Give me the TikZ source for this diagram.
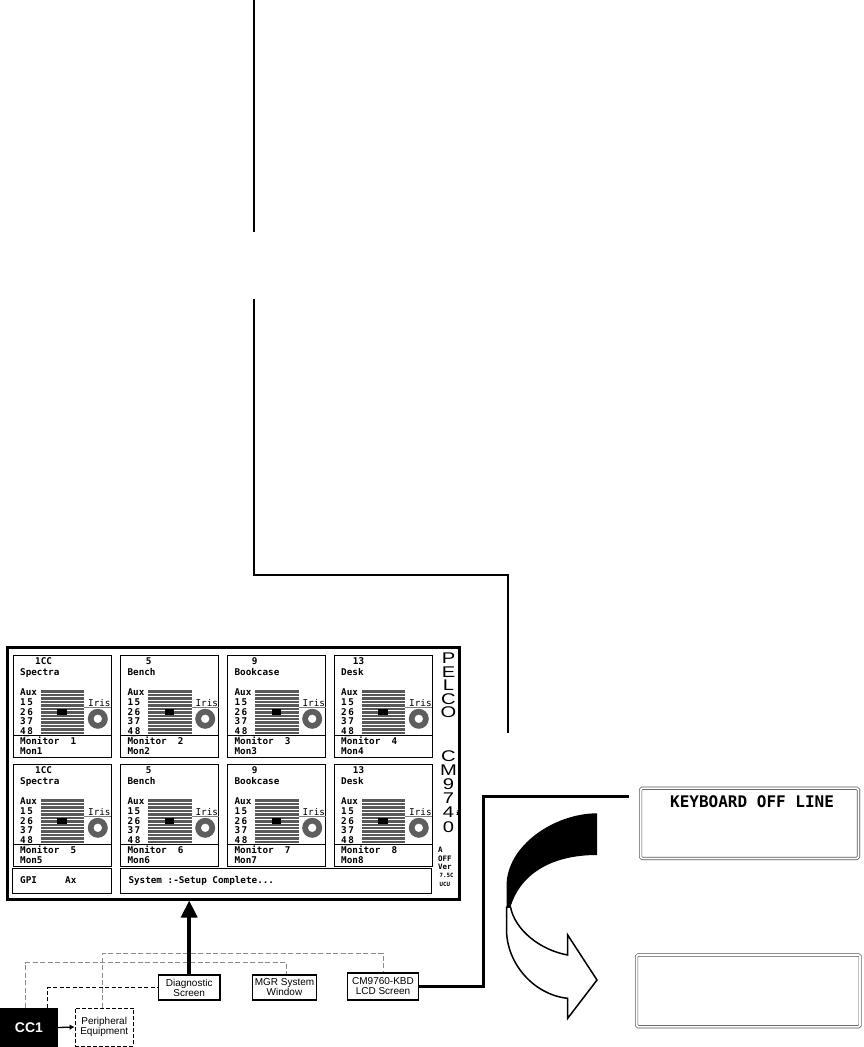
\documentclass[tikz,border=0pt]{standalone}
\usepackage{fontspec}
\setmainfont{Liberation Sans}
\newfontfamily\lcd{DejaVu Sans Mono}
\usetikzlibrary{arrows.meta,calc}
\definecolor{bargray}{HTML}{595959}
\definecolor{dashgray}{HTML}{8C8C8C}
\definecolor{ringgray}{HTML}{5E5E5E}
\definecolor{lcdgray}{HTML}{555555}
\newcommand\wl[1]{\scalebox{1.3}[1]{#1}}
\tikzset{
  mtxt/.style={font=\lcd\bfseries\fontsize{9.3}{10}\selectfont, inner sep=0pt, anchor=base west},
  itxt/.style={font=\lcd\fontsize{9.3}{10}\selectfont, inner sep=0pt, anchor=base west},
  stxt/.style={font=\lcd\bfseries\fontsize{7.5}{8}\selectfont, inner sep=0pt, anchor=west},
  tinytxt/.style={font=\lcd\bfseries\fontsize{5.8}{6}\selectfont, inner sep=0pt, anchor=west},
  panelbox/.style={draw, line width=1pt, inner sep=0pt},
  labbox/.style={draw, line width=1.2pt, inner sep=0pt, align=center, font=\fontsize{10}{10}\selectfont},
  gdash/.style={draw=dashgray, line width=1pt, dash pattern=on 5pt off 2.5pt},
  bdash/.style={draw=black, line width=0.9pt, dash pattern=on 4pt off 2.5pt},
  vline/.style={line width=2pt},
  thickline/.style={line width=2.5pt},
  lcdbox/.style={draw=lcdgray, double=white, double distance=1.8pt, line width=0.7pt, rounded corners=1.5pt, inner sep=0pt},
}
\newcommand\campanel[7]{%
\begin{scope}[shift={(#2,#3)}]
 \node[panelbox, minimum width=98pt, minimum height=102pt] (#1) at (49,51) {};
 \node[mtxt] (#1num) at (#5,9.9) {#4};
 \node[mtxt] (#1cam) at (6.7,20.3) {#6};
 \node[mtxt] (#1aux) at (6.7,40.3) {Aux};
 \node[mtxt] (#1ra) at (6.7,50.1) {1\,5};
 \node[mtxt] (#1rb) at (6.7,60) {2\,6};
 \node[mtxt] (#1rc) at (6.7,69.4) {3\,7};
 \node[mtxt] (#1rd) at (6.7,79.1) {4\makebox[1.6pt]{\_}8};
 \fill[bargray] (27.7,35) rectangle (71,80.4);
 \foreach \k in {1,...,13} \draw[white, line width=0.8pt] (27.7,35+\k*3.42) -- (71,35+\k*3.42);
 \fill[black] (44,54) rectangle (53.4,60);
 \draw[gray, line width=0.6pt] (71,52.3) -- (98,52.3);
 \node[itxt] (#1iris) at (74.7,51) {Iris};
 \fill[ringgray, even odd rule] (84.5,63.8) circle[radius=10pt] (84.5,63.8) circle[radius=4.3pt];
 \draw[line width=0.8pt] (0,80.4) -- (98,80.4);
 \node[mtxt] (#1mon) at (6.7,89.2) {Monitor~~#7};
 \node[mtxt] (#1mn) at (6.7,99.6) {Mon#7};
\end{scope}}
\begin{document}
\begin{tikzpicture}[x=1pt,y=-1pt]
\useasboundingbox (0,0) rectangle (863,1047);
\fill[white] (0,0) rectangle (863,1047);

% top connector lines
\coordinate (t1) at (254,0);
\coordinate (t2) at (254,232);
\coordinate (t3) at (254,298.5);
\coordinate (t4) at (508,575);
\coordinate (t5) at (508,733);
\draw[vline] (t1) -- (t2);
\draw[vline] (t3) |- (t4) -- (t5);

% monitor screen
\node[draw, line width=3pt, minimum width=451.5pt, minimum height=251.5pt, inner sep=0pt] (screen) at (233.25,773.25) {};
\campanel{pa}{13.3}{655}{1CC}{21.7}{Spectra}{1}
\campanel{pb}{120.7}{655}{5}{25}{Bench}{2}
\campanel{pc}{227.7}{655}{9}{24}{Bookcase}{3}
\campanel{pd}{334.3}{655}{13}{18.4}{Desk}{4}
\campanel{pe}{13.3}{764}{1CC}{21.7}{Spectra}{5}
\campanel{pf}{120.7}{764}{5}{25}{Bench}{6}
\campanel{pg}{227.7}{764}{9}{24}{Bookcase}{7}
\campanel{ph}{334.3}{764}{13}{18.4}{Desk}{8}
\node[panelbox, minimum width=99pt, minimum height=25pt] (gpi) at (62.2,880.8) {};
\node[panelbox, minimum width=311.7pt, minimum height=25pt] (sys) at (275.85,880.8) {};
\node[mtxt] (gpit) at (20,883.5) {GPI};
\node[mtxt] (axt) at (65,883.5) {Ax};
\node[mtxt] (syst) at (128.3,883.5) {System :-Setup Complete...};

% right column
\node[inner sep=0pt, anchor=north, align=center, font=\fontsize{15.5}{13.4}\selectfont] (pelco) at (448.5,653)
  {\wl{P}\\\wl{E}\\\wl{L}\\\wl{C}\\\wl{O}};
\node[inner sep=0pt, anchor=north, align=center, font=\fontsize{15.5}{14.2}\selectfont] (model) at (448.5,750)
  {\wl{C}\\\wl{M}\\\wl{9}\\\wl{7}\\\wl{4}\\\wl{0}};
\node[tinytxt] (idot) at (455.6,813) {i};
\node[stxt] (sa) at (438,850) {A};
\node[stxt] (soff) at (438,859) {OFF};
\node[stxt] (sver) at (438,867) {Ver};
\node[tinytxt] (sv1) at (439.5,875) {7.5C};
\node[tinytxt] (sv2) at (439.5,884) {UCU};

% lower boxes
\node[fill=black, text=white, minimum width=58pt, minimum height=39pt, inner sep=0pt,
      font=\bfseries\fontsize{14}{14}\selectfont] (cc1) at (29,1027.5) {CC1};
\node[draw, line width=0.9pt, dash pattern=on 4pt off 2pt, minimum width=58.3pt, minimum height=38pt,
      inner sep=0pt, align=center, font=\fontsize{10}{10}\selectfont] (periph) at (104.2,1027) {Peripheral\\Equipment};
\node[labbox, minimum width=61.7pt, minimum height=25pt] (diag) at (189.2,987.5) {Diagnostic\\Screen};
\node[labbox, minimum width=64.4pt, minimum height=25pt] (mgr) at (284.5,987.5) {MGR System\\Window};
\node[labbox, minimum width=70.6pt, minimum height=27pt] (kbd) at (383,986.5) {CM9760-KBD\\LCD Screen};

% dashed links
\coordinate (j1) at (286.7,962.7);
\coordinate (j2) at (383,953.3);
\draw[gdash] ($(cc1.north west)+(25.7,0)$) |- (j1) -- (j1 |- mgr.north);
\draw[bdash] ($(cc1.north west)+(47.7,0)$) |- (diag.west);
\draw[gdash] ($(periph.north west)+(27.7,0)$) |- (j2) -- (kbd.north);

% solid links
\draw[line width=1.3pt, -{Latex[length=5pt,width=5.5pt]}] (cc1.east) -- (periph.west);
\draw[line width=3.5pt, -{Triangle[width=16pt,length=17pt]}] (diag.north) -- (screen.south -| diag.north);
\coordinate (turn) at (483.3,796.5);
\coordinate (lcdin) at (629,796.5);
\draw[thickline] (kbd.east) -| (turn) -- (lcdin);

% LCD screens
\node[lcdbox, minimum width=217.8pt, minimum height=70.1pt] (lcd1) at (749.5,823.35) {};
\node[font=\lcd\bfseries\fontsize{16}{16}\selectfont, inner sep=0pt, anchor=west] (kol) at (670,801.7) {KEYBOARD OFF LINE};
\node[lcdbox, minimum width=223.5pt, minimum height=71.8pt] (lcd2) at (748.35,990.8) {};

% curved arrow
\fill[black] (597,813.3) .. controls (555,813.3) and (506.5,845) .. (506.5,886) -- (506.5,907)
  -- (510.5,907) .. controls (520,875) and (550,855) .. (597,855) -- cycle;
\draw[line width=1.5pt, fill=white, line join=miter] (506.5,907) -- (506.5,930) .. controls (507,965) and (535,995) .. (567.7,998.3)
  -- (567.7,1018.3) -- (597,980) -- (567.7,935) -- (567.7,955)
  .. controls (540,950) and (515,930) .. (510.5,907) -- cycle;
\end{tikzpicture}
\end{document}
